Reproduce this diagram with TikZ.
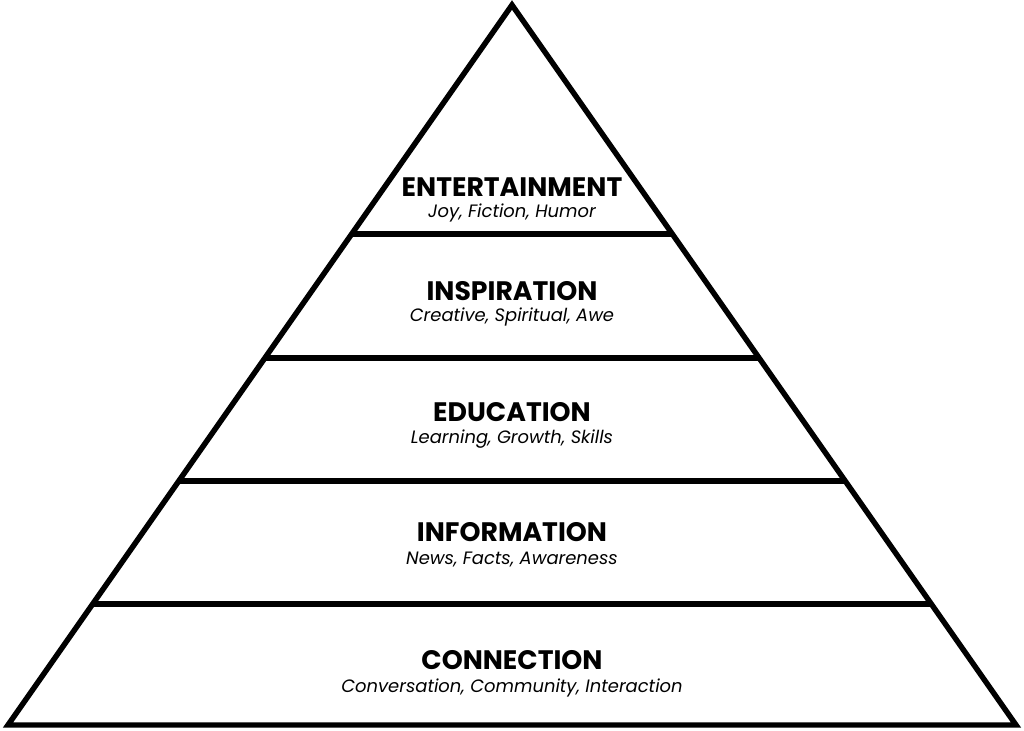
\documentclass[tikz,border=0pt]{standalone}
\usepackage{fontspec}
\setmainfont{Poppins}
\usetikzlibrary{calc}

\begin{document}
\begin{tikzpicture}[
    x=0.01cm, y=-0.01cm,
    level/.style={font=\fontsize{7.6pt}{8pt}\selectfont\bfseries, inner sep=0pt},
    topics/.style={font=\fontsize{5.1pt}{6pt}\selectfont\itshape, inner sep=0pt}
]
    \useasboundingbox (0,0) rectangle (1024,731);

    % Outline
    \coordinate (apex) at (512,5);
    \coordinate (bl) at (8,725);
    \coordinate (br) at (1016,725);
    \draw[line width=1.55pt, line join=miter] (apex) -- (bl) -- (br) -- cycle;

    % Dividers
    \foreach \py in {234, 358, 481, 604} {
        \pgfmathsetmacro{\t}{(725-\py)/720}
        \draw[line width=1.55pt] ($(bl)!\t!(apex)$) -- ($(br)!\t!(apex)$);
    }

    % Levels
    \node[level] (ent) at (512,187) {ENTERTAINMENT};
    \node[topics] (entT) at (512,213) {Joy, Fiction, Humor};
    \node[level] (ins) at (512,291) {INSPIRATION};
    \node[topics] (insT) at (512,317) {Creative, Spiritual, Awe};
    \node[level] (edu) at (512,412) {EDUCATION};
    \node[topics] (eduT) at (512,439) {Learning, Growth, Skills};
    \node[level] (inf) at (512,532) {INFORMATION};
    \node[topics] (infT) at (512,560) {News, Facts, Awareness};
    \node[level] (con) at (512,660) {CONNECTION};
    \node[topics] (conT) at (512,688) {Conversation, Community, Interaction};

\end{tikzpicture}
\end{document}
